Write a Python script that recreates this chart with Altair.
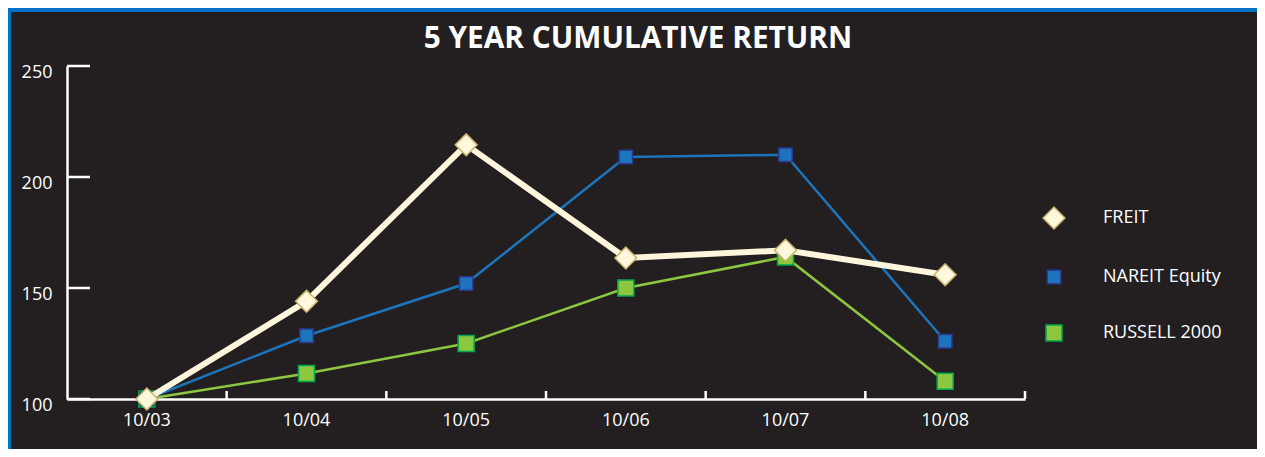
import altair as alt
import pandas as pd

years = ["10/03", "10/04", "10/05", "10/06", "10/07", "10/08"]
freit = [100, 144, 214.5, 163.5, 167, 156]
nareit = [100, 128.5, 152, 209, 210, 126]
russell = [100, 111.5, 125, 150, 164, 108]
series_names = ["FREIT", "NAREIT Equity", "RUSSELL 2000"]
y_ticks = [100, 150, 200, 250]
title_text = "5 YEAR CUMULATIVE RETURN"

BG = "#231f20"
FONT = "Open Sans"

rows = []
for name, vals in zip(series_names, [freit, nareit, russell]):
    for yr, v in zip(years, vals):
        rows.append({"year": yr, "value": v, "series": name})
df = pd.DataFrame(rows)

W, H = 958, 333

xscale = alt.Scale(type="band", domain=years, paddingInner=0, paddingOuter=0)
yscale = alt.Scale(domain=[100, 250], nice=False, zero=False)

line_colors = ["#fdf6dc", "#1c75bc", "#8dc63f"]
line_widths = [6, 2.5, 2.5]
fills = ["#fff8dc", "#1c75bc", "#8dc63f"]
strokes = ["#c9b26d", "#2b3990", "#00a651"]
shapes = ["diamond", "square", "square"]
sizes = [480, 180, 256]

x_axis = alt.Axis(
    title=None, domainColor="white", domainWidth=2.5, ticks=False,
    labelColor="white", labelFont=FONT, labelFontSize=18, labelPadding=12,
    labelAngle=0, grid=False,
)
y_axis = alt.Axis(
    title=None, values=y_ticks, domainColor="white", domainWidth=2.5, ticks=False,
    labelColor="white", labelFont=FONT, labelFontSize=18, labelPadding=15,
    labelBaseline="top", labelOffset=-3, grid=False,
)


def xenc(band=0.5, field="year"):
    return alt.X(f"{field}:N", scale=xscale, axis=x_axis, sort=years, bandPosition=band)


def yenc(field="value"):
    return alt.Y(f"{field}:Q", scale=yscale, axis=y_axis)


layers = []

# y tick marks (inward)
ytick_df = pd.DataFrame({"value": y_ticks})
ytk = alt.Chart(ytick_df).mark_rule(color="white", strokeWidth=2.5).encode(
    y=yenc(), x=alt.value(0), x2=alt.value(23),
)
layers.append(ytk)

# x tick marks at band boundaries (inward)
xtick_df = pd.DataFrame({"year": years})
xtk = alt.Chart(xtick_df).mark_rule(color="white", strokeWidth=2.5).encode(
    x=xenc(band=1), y=alt.value(H - 8), y2=alt.value(H),
)
layers.append(xtk)

# draw order: RUSSELL, NAREIT, FREIT on top
for i in [2, 1, 0]:
    name = series_names[i]
    sub = df[df.series == name]
    ln = alt.Chart(sub).mark_line(
        color=line_colors[i], strokeWidth=line_widths[i], strokeJoin="miter"
    ).encode(x=xenc(), y=yenc())
    pt = alt.Chart(sub).mark_point(filled=True, opacity=1, strokeWidth=1.5).encode(
        x=xenc(), y=yenc(),
        fill=alt.Fill("series:N", scale=alt.Scale(domain=series_names, range=fills),
                      legend=alt.Legend(title=None)),
        stroke=alt.Stroke("series:N", scale=alt.Scale(domain=series_names, range=strokes),
                          legend=alt.Legend(title=None)),
        shape=alt.Shape("series:N", scale=alt.Scale(domain=series_names, range=shapes),
                        legend=alt.Legend(title=None)),
        size=alt.Size("series:N",
                      scale=alt.Scale(type="ordinal", domain=series_names, range=sizes),
                      legend=alt.Legend(title=None)),
    )
    layers.append(ln)
    layers.append(pt)

# title as text
ttl = alt.Chart(pd.DataFrame({"t": [title_text]})).mark_text(
    color="white", font=FONT, fontSize=29.8, fontWeight="bold",
    align="center", baseline="alphabetic",
).encode(text="t:N", x=alt.value(571), y=alt.value(-18))
layers.append(ttl)

# decorative blue frame (top and left edge of the panel)
frame_top = alt.Chart(pd.DataFrame({"a": [0]})).mark_rule(color="#0072c6", strokeWidth=4).encode(
    x=alt.value(-59), x2=alt.value(1190), y=alt.value(-56),
)
frame_left = alt.Chart(pd.DataFrame({"a": [0]})).mark_rule(color="#0072c6", strokeWidth=3).encode(
    x=alt.value(-57.5), y=alt.value(-58), y2=alt.value(383),
)
layers.append(frame_top)
layers.append(frame_left)

chart = alt.layer(*layers).resolve_scale(
    fill="shared", stroke="shared", shape="shared", size="shared"
).properties(
    width=W, height=H,
    autosize=alt.AutoSizeParams(type="none"),
    padding={"left": 59, "top": 58, "right": 232, "bottom": 50},
    background=BG,
).configure_view(stroke=None).configure_legend(
    orient="none", legendX=975, legendY=140,
    labelColor="white", labelFont=FONT, labelFontSize=18,
    labelOffset=37, rowPadding=35, symbolStrokeWidth=1.5,
)

chart.save("out.html", embed_options={"renderer": "svg", "actions": False})
